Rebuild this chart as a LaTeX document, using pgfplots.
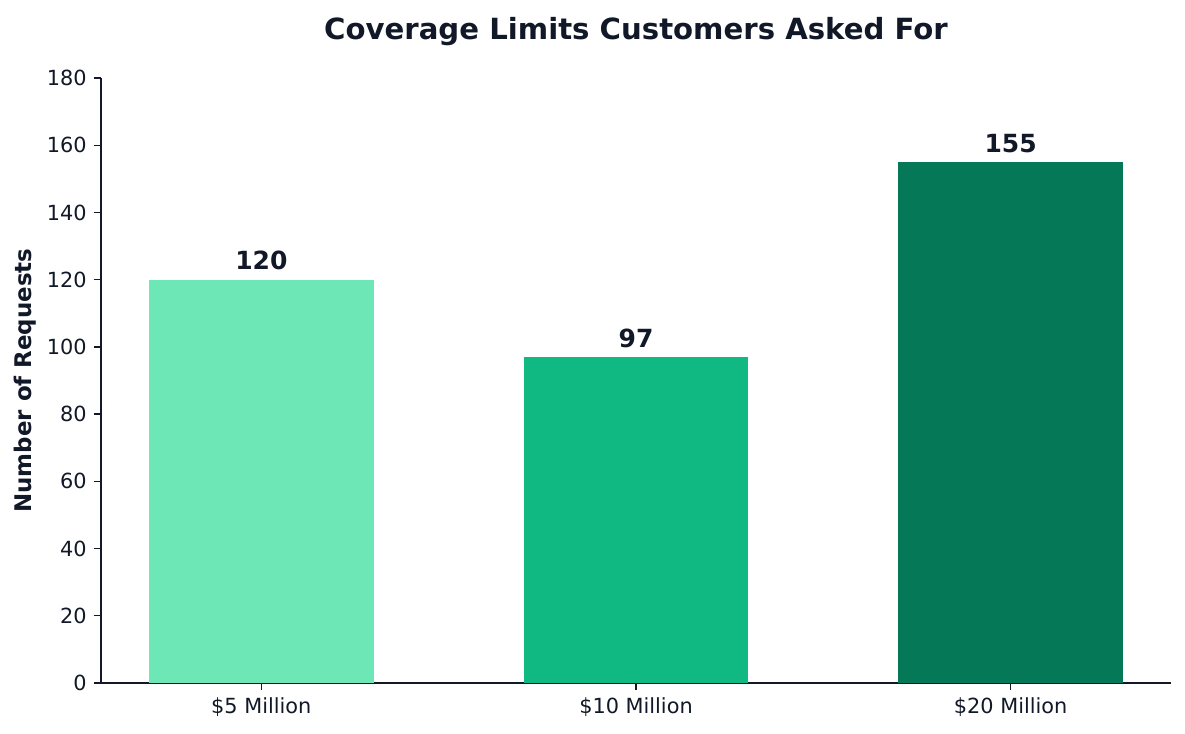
\documentclass[border=0pt]{standalone}
\usepackage{fontspec}
\setmainfont{DejaVu Sans}
\usepackage{pgfplots}
\pgfplotsset{compat=1.18}

\definecolor{ink}{HTML}{111827}
\definecolor{emlight}{HTML}{6EE7B7}
\definecolor{emmid}{HTML}{10B981}
\definecolor{emdark}{HTML}{047857}

\begin{document}
\begin{tikzpicture}
\begin{axis}[
  name=ax,
  scale only axis,
  width=513.6pt, height=290.4pt,
  xmin=-0.428, xmax=2.428,
  ymin=0, ymax=180,
  ytick={0,20,...,180},
  xtick={0,1,2},
  xticklabels={\$5 Million,\$10 Million,\$20 Million},
  axis lines*=left,
  axis line style={ink, line width=0.6pt},
  tick style={ink, line width=0.6pt},
  tick align=outside,
  major tick length=3.4pt,
  tick label style={font=\fontsize{10}{12}\selectfont, text=ink},
  /pgf/number format/assume math mode=true,
  ylabel={\textbf{Number of Requests}},
  ylabel style={font=\fontsize{11}{13}\selectfont, text=ink},
  ylabel shift=-2pt,
  title={\textbf{Coverage Limits Customers Asked For}},
  title style={font=\fontsize{14}{17}\selectfont, text=ink, yshift=6pt},
  ybar, bar width=0.6,
  bar shift=0pt,
  nodes near coords,
  nodes near coords style={font=\fontsize{12}{14}\selectfont\bfseries, text=ink, yshift=1pt},
  clip=false,
]
  \addplot[fill=emlight, draw=none] coordinates {(0,120)};
  \addplot[fill=emmid, draw=none] coordinates {(1,97)};
  \addplot[fill=emdark, draw=none] coordinates {(2,155)};
\end{axis}
\pgfresetboundingbox
\path[use as bounding box] ([shift={(-48.48pt,-24pt)}]ax.south west) rectangle ([shift={(520.32pt,327.84pt)}]ax.south west);
\end{tikzpicture}
\end{document}
